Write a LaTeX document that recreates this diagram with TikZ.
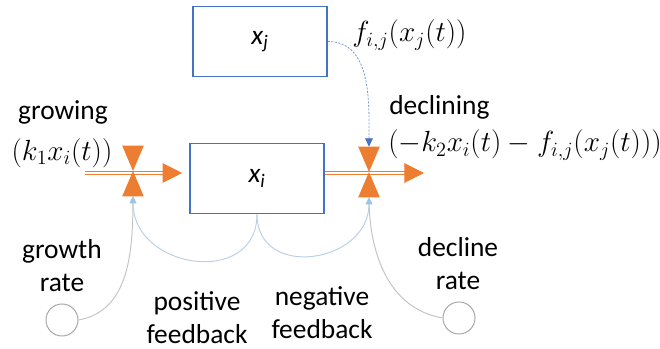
\documentclass[tikz,border=0pt]{standalone}
\usepackage[no-math]{fontspec}
\setmainfont{Carlito}
\usepackage{tikz}
\usetikzlibrary{arrows.meta,positioning,calc}
\definecolor{sdorange}{HTML}{ED7D31}
\definecolor{sdblue}{HTML}{4472C4}
\definecolor{sdpale}{HTML}{9DC3E6}
\definecolor{sdfeed}{HTML}{BCD0E4}
\definecolor{sdgray}{HTML}{C4C4C4}
\definecolor{sdring}{HTML}{A6A6A6}
\newcommand{\sdfont}{\fontsize{19.5pt}{23.5pt}\selectfont}
\tikzset{
  stock/.style={draw=sdblue,line width=1.1pt,fill=white,minimum width=3.35cm,minimum height=1.75cm,inner sep=0pt},
  valve/.style={minimum width=0.525cm,minimum height=1.25cm,inner sep=0pt},
  rate/.style={circle,draw=sdring,line width=0.7pt,minimum size=0.8cm,inner sep=0pt},
  flow/.style={draw=sdorange,double=white,double distance=1.5pt,line width=0.8pt,-{Triangle[length=14pt,width=14pt]}},
  link/.style={draw=sdgray,line width=0.7pt},
  feed/.style={draw=sdfeed,line width=0.7pt,-{Triangle[length=5pt,width=5pt,color=sdpale]}},
  cross/.style={draw=sdblue!70,dash pattern=on 1.5pt off 1pt,line width=0.6pt,-{Triangle[length=6pt,width=5.5pt,color=sdblue]}},
  lbl/.style={inner sep=0pt,align=center},
}

\begin{document}
\begin{tikzpicture}[x=0.025cm,y=0.025cm,font=\sdfont]
  \useasboundingbox (0,0) rectangle (660,349);
  % stocks and valves
  \node[stock] (xj) at (260,307.5) {\itshape x\textsubscript{j}};
  \node[stock] (xi) at (257,170.5) {\itshape x\textsubscript{i}};
  \node[valve] (vin) at (133,178) {};
  \node[valve] (vout) at (369,177) {};
  \coordinate (src) at (85,176);
  \coordinate (sink) at (424,176);
  \node[rate] (grate) at (62,29) {};
  \node[rate] (drate) at (459,31) {};
  % links
  \draw[link] (grate.east) to[out=10,in=-90] (vin.south);
  \draw[link] (drate.west) to[out=170,in=-90] (vout.south);
  \draw[feed] (xi.south) to[out=-90,in=-90,looseness=1.5] (vin.south);
  \draw[feed] (xi.south) to[out=-90,in=-90,looseness=1.5] (vout.south);
  \draw[cross] (xj.east) to[out=0,in=90] (vout.north);
  % flows
  \draw[flow,shorten >=0.175cm] (src) -- (src -| xi.west);
  \draw[flow] (xi.east |- sink) -- (sink);
  \foreach \v in {vin,vout}
    \fill[sdorange] (\v.north west) -- (\v.north east) -- (\v.center) -- (\v.south east) -- (\v.south west) -- (\v.center) -- cycle;
  % labels
  \node[lbl] (growlbl) at (63,237) {growing};
  \node[lbl] (groweq) at (62,196) {$(k_1x_i(t))$};
  \node[lbl,anchor=west] (decllbl) at (389,242) {declining};
  \node[lbl,anchor=west] (decleq) at (388,204) {$(-k_2x_i(t)-f_{i,j}(x_j(t)))$};
  \node[lbl,anchor=west] (crosslbl) at (352,314) {$f_{i,j}(x_j(t))$};
  \node[lbl] (gratelbl) at (62,83) {growth\\rate};
  \node[lbl] (dratelbl) at (458,85) {decline\\rate};
  \node[lbl] (poslbl) at (197,31) {positive\\feedback};
  \node[lbl] (neglbl) at (322,36) {negative\\feedback};
\end{tikzpicture}
\end{document}
